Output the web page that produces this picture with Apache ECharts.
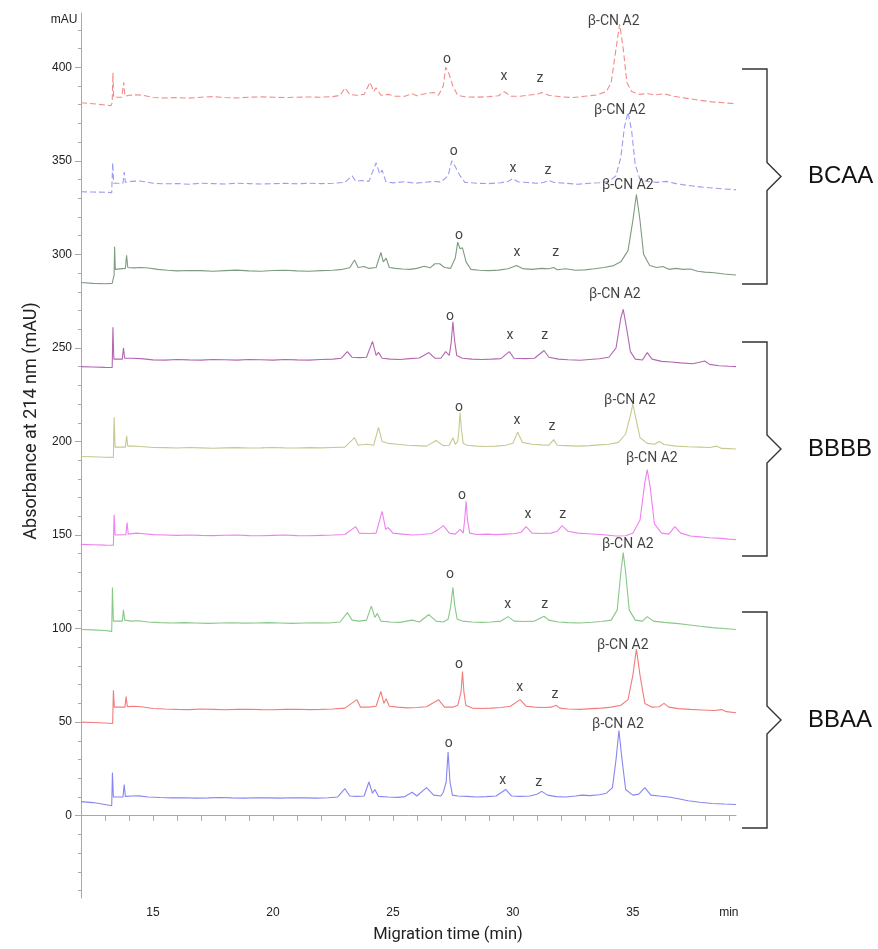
<!DOCTYPE html>
<html>
<head>
<meta charset="utf-8">
<script src="https://cdn.jsdelivr.net/npm/echarts@6/dist/echarts.min.js"></script>
<style>
  html, body { margin: 0; padding: 0; background: #fff; }
  #chart { width: 878px; height: 949px; }
</style>
</head>
<body>
<div id="chart"></div>
<script>
// Electropherograms (absorbance at 214 nm vs migration time), stacked traces
const xTickValues = [12,13,14,15,16,17,18,19,20,21,22,23,24,25,26,27,28,29,30,31,32,33,34,35,36,37,38,39];
const xLabelValues = [15, 20, 25, 30, 35, 39];
const yLabelValues = [0, 50, 100, 150, 200, 250, 300, 350, 400];
const yMinorValues = [-40,-30,-20,-10,0,10,20,30,40,50,60,70,80,90,100,110,120,130,140,150,160,170,180,190,200,210,220,230,240,250,260,270,280,290,300,310,320,330,340,350,360,370,380,390,400,410,420];

// BCAA sample 1 (dashed red)
const traceBCAA1 = [[12.0,381],[12.5,380.5],[13.0,379.8],[13.25,379.5],[13.3,381],[13.33,397],[13.36,384],[13.7,384],[13.78,392],[13.83,384.5],[14.0,385],[14.3,385.3],[14.6,385],[15.0,383.8],[15.5,383.6],[16.0,383.8],[16.5,383.5],[17.0,384],[17.5,384.3],[18.0,383.8],[18.5,383.6],[19.0,384],[19.5,384.2],[20.0,384],[20.5,383.8],[21.0,384],[21.5,384.1],[22.0,384],[22.5,384.3],[22.8,385],[23.0,389],[23.2,385.5],[23.5,385],[23.8,385.5],[24.05,392],[24.2,387],[24.3,389],[24.5,385],[24.8,385.5],[25.1,384.5],[25.5,384.5],[25.8,385.8],[26.0,384.8],[26.4,386],[26.7,386.5],[26.9,385],[27.1,390],[27.2,400],[27.3,398],[27.35,399],[27.5,390],[27.7,385],[28.0,384.2],[28.5,384],[29.0,384.3],[29.4,384.8],[29.65,387],[29.9,384.5],[30.3,384.5],[30.7,385.2],[31.0,385.5],[31.2,386.5],[31.5,385],[32.0,384.2],[32.5,383.8],[33.0,384.5],[33.5,385.2],[33.9,387],[34.1,392],[34.3,410],[34.45,423],[34.6,410],[34.75,392],[34.95,387],[35.3,385.5],[35.6,386],[35.9,385.2],[36.3,385.8],[36.7,384.5],[37.2,383.5],[37.7,382.5],[38.3,381.5],[38.8,381],[39.3,380.5]];
// BCAA sample 2 (dashed blue)
const traceBCAA2 = [[12.0,333.5],[12.5,333.3],[13.0,333.2],[13.28,333],[13.32,349],[13.36,338],[13.75,338],[13.8,344],[13.85,338.5],[14.1,339],[14.4,339.2],[14.7,338.8],[15.0,338],[15.5,337.7],[16,337.8],[16.5,337.5],[17,338],[17.5,337.8],[18,337.6],[18.5,338],[19,337.8],[19.5,337.6],[20,337.8],[20.5,338],[21,337.7],[21.5,338],[22,337.8],[22.5,338],[23.0,338.5],[23.3,342],[23.45,339],[23.7,339.5],[24.0,339],[24.3,349],[24.45,343],[24.55,345],[24.7,339],[25.0,338.2],[25.5,338.8],[25.9,338],[26.3,338.5],[26.7,339],[27.0,338.7],[27.3,342],[27.45,350],[27.55,348],[27.6,349],[27.8,342],[28.0,338.5],[28.5,338],[29.0,337.8],[29.5,338.3],[29.8,339],[30.0,340.5],[30.2,338.8],[30.6,338.4],[31.0,338],[31.3,338.5],[31.5,339.5],[31.7,338.5],[32.2,338],[32.7,337.5],[33.2,338],[33.6,338.3],[34.0,339],[34.3,342],[34.5,352],[34.65,368],[34.8,376],[34.95,366],[35.1,348],[35.3,340],[35.6,339],[36.0,338.5],[36.4,339],[36.8,337.8],[37.2,337],[37.7,336.2],[38.3,335.5],[38.8,335],[39.3,334.5]];
// BCAA sample 3 (grey-green)
const traceBCAA3 = [[12.0,285],[12.5,284.5],[13.0,284.3],[13.3,284.5],[13.38,289],[13.4,304],[13.43,292],[13.85,292.5],[13.9,299.5],[13.95,293],[14.2,292.8],[14.5,293],[14.8,292.7],[15.2,292],[15.6,291.5],[16,291.2],[16.5,291.4],[17,291.3],[17.5,291],[18,291.3],[18.5,291.6],[19,291.2],[19.5,291.0],[20,291.4],[20.5,291.5],[21,291.2],[21.5,291],[22,291.3],[22.5,291.5],[22.9,292],[23.2,292.8],[23.4,297],[23.55,293],[23.8,293.5],[24.0,292.5],[24.3,293],[24.5,301],[24.6,296],[24.72,298],[24.85,293],[25.1,292.5],[25.4,292.2],[25.7,292],[26.0,292.5],[26.3,293.6],[26.55,292.8],[26.75,295],[26.95,295],[27.15,293],[27.4,292.5],[27.6,298],[27.7,306.5],[27.8,303],[27.9,303.5],[28.05,296],[28.25,292],[28.6,291.5],[29.0,291.3],[29.4,291.6],[29.8,292.3],[30.15,294],[30.4,292.4],[30.8,292],[31.2,292.5],[31.5,292.3],[31.7,293],[31.85,291.8],[32.2,292.3],[32.6,291.5],[33.0,291.7],[33.4,292.3],[33.8,293],[34.2,294],[34.5,296],[34.8,302],[35.0,318],[35.15,332],[35.3,318],[35.45,300],[35.7,294],[36.0,293],[36.25,293.5],[36.5,292],[36.8,292.5],[37.1,292],[37.4,292.2],[37.7,291],[38.0,290.5],[38.4,290.2],[38.8,289.5],[39.3,289]];
// BBBB sample 1 (purple)
const traceBBBB1 = [[12.0,240],[12.5,239.8],[13.0,239.6],[13.3,239.5],[13.33,261],[13.37,244],[13.72,244],[13.77,250],[13.82,244.5],[14.1,244.5],[14.5,244.3],[15.0,243.6],[15.5,243.5],[16,243.8],[16.5,243.6],[17,243.5],[17.5,243.8],[18,243.7],[18.5,243.5],[19,243.8],[19.5,243.7],[20,243.5],[20.5,243.8],[21,243.6],[21.5,243.5],[22,243.8],[22.5,244],[22.85,244.5],[23.1,248],[23.3,245],[23.6,244.8],[23.9,245],[24.15,253.5],[24.3,246],[24.4,247.6],[24.55,244.5],[24.9,244],[25.3,243.8],[25.7,244.3],[26.1,244.6],[26.5,247.5],[26.75,244.5],[27.0,244.5],[27.2,248],[27.35,246],[27.43,253],[27.5,264],[27.57,254],[27.66,246],[27.9,244.5],[28.3,244],[28.7,243.8],[29.1,244],[29.5,244.3],[29.85,248],[30.05,244.5],[30.5,244.3],[30.9,244.5],[31.3,248.6],[31.5,245],[31.9,244],[32.3,243.7],[32.8,243.4],[33.2,243.8],[33.6,244.2],[34.0,245],[34.3,250],[34.5,266],[34.6,270.6],[34.72,262],[34.9,248],[35.1,244],[35.4,243.5],[35.6,247.5],[35.8,244],[36.2,242.8],[36.6,242.5],[37.0,242],[37.5,241.5],[38.0,243],[38.2,241.2],[38.6,240.5],[39.0,240.2],[39.3,240]];
// BBBB sample 2 (olive)
const traceBBBB2 = [[12.0,192],[12.5,191.8],[13.0,191.6],[13.35,191.5],[13.38,213],[13.42,197],[13.85,197],[13.9,203],[13.95,197.5],[14.2,197.6],[14.5,197.3],[15.0,196.8],[15.5,196.7],[16,196.5],[16.5,196.8],[17,196.6],[17.5,196.4],[18,196.6],[18.5,196.7],[19,196.5],[19.5,196.6],[20,196.8],[20.5,196.6],[21,196.5],[21.5,196.7],[22,196.6],[22.5,196.8],[23.0,197],[23.4,202],[23.55,198],[23.9,198.5],[24.2,198],[24.4,207.5],[24.55,200],[24.8,199],[25.2,198.5],[25.6,198],[26.0,197.8],[26.4,197.5],[26.8,200.5],[27.1,197.8],[27.35,198],[27.5,202],[27.6,198.5],[27.7,200],[27.75,206],[27.8,215.5],[27.86,206],[27.93,199],[28.1,198],[28.5,197.5],[28.9,197.3],[29.3,197.5],[29.7,198],[30.0,199],[30.2,205],[30.4,199.5],[30.8,198.5],[31.2,198.2],[31.5,198],[31.7,201],[31.85,198],[32.2,197.8],[32.7,197.5],[33.2,197.8],[33.6,198.2],[34.0,198.5],[34.4,199.5],[34.7,204],[34.9,214],[35.0,220],[35.1,214],[35.3,202],[35.6,199],[35.9,198.5],[36.1,200],[36.3,198.4],[36.8,197.5],[37.3,197.2],[37.8,197],[38.2,196.8],[38.5,197.5],[38.7,196.3],[39.0,196.2],[39.3,196]];
// BBBB sample 3 (magenta)
const traceBBBB3 = [[12.0,145],[12.5,144.8],[13.0,144.6],[13.35,144.5],[13.38,161],[13.42,150],[13.87,150.2],[13.92,156.7],[13.97,150.5],[14.3,151],[14.5,150.8],[15.0,150.2],[15.5,150],[16,149.8],[16.5,150],[17,149.8],[17.5,149.7],[18,149.9],[18.5,150],[19,149.7],[19.5,149.6],[20,149.8],[20.5,150],[21,149.7],[21.5,149.6],[22,149.8],[22.5,150],[23.0,150.3],[23.45,154.5],[23.6,151],[24.0,150.8],[24.3,151],[24.55,162.6],[24.7,153],[24.8,154],[25.0,151],[25.4,150.5],[25.8,150],[26.2,150.3],[26.6,150.8],[26.9,153],[27.1,155],[27.35,151],[27.6,150.5],[27.8,153],[27.93,151],[27.99,158],[28.05,168],[28.11,158],[28.2,151],[28.5,150.3],[28.9,150.5],[29.3,150.2],[29.7,150.5],[30.1,150.8],[30.35,151.5],[30.55,154.5],[30.8,151],[31.2,150.8],[31.6,151],[31.85,152],[32.05,155],[32.3,152],[32.7,151],[33.1,150.7],[33.5,150.4],[33.9,150],[34.3,149.5],[34.7,149.6],[35.0,151],[35.3,158],[35.5,178],[35.6,185],[35.72,176],[35.9,156],[36.2,151],[36.5,150.5],[36.75,154.5],[37.0,151],[37.4,149.5],[37.8,149],[38.2,148.5],[38.7,148.2],[39.0,147.8],[39.3,147.6]];
// BBAA sample 1 (green)
const traceBBAA1 = [[12.0,99.5],[12.5,99.3],[13.0,99],[13.28,98.5],[13.31,122],[13.35,104],[13.72,104],[13.77,110],[13.82,104.5],[14.1,104],[14.4,104.2],[14.8,103.5],[15.3,103.2],[15.8,103],[16.3,103.2],[16.8,103],[17.3,102.8],[17.8,103],[18.3,103.1],[18.8,102.9],[19.3,103],[19.8,103.2],[20.3,103],[20.8,102.8],[21.3,103],[21.8,103.1],[22.3,103],[22.8,103.5],[23.1,108.5],[23.3,104.5],[23.6,104],[23.9,104.5],[24.1,112],[24.25,106],[24.35,108],[24.5,104],[24.9,103.5],[25.3,103.3],[25.8,104.5],[26.1,103.5],[26.5,107.5],[26.8,104],[27.1,103.5],[27.3,105],[27.4,111],[27.5,122],[27.58,112],[27.68,105],[27.9,104],[28.3,103.5],[28.7,103.3],[29.1,103.5],[29.5,104],[29.8,106.4],[30.05,104],[30.5,103.8],[30.9,104],[31.3,106.6],[31.5,104.5],[31.9,103.5],[32.3,103.2],[32.8,103],[33.3,103.4],[33.7,103.8],[34.1,104.5],[34.35,110],[34.5,130],[34.6,140.6],[34.7,130],[34.85,110],[35.1,104.5],[35.4,104],[35.6,106.4],[35.85,104],[36.3,103.3],[36.8,102.8],[37.3,102],[37.8,101.2],[38.3,100.5],[38.8,100],[39.3,99.5]];
// BBAA sample 2 (red)
const traceBBAA2 = [[12.0,50],[12.5,49.8],[13.0,49.5],[13.32,49.3],[13.35,67],[13.39,58],[13.83,58],[13.88,63.6],[13.93,58.3],[14.2,58.5],[14.5,58.2],[15.0,57.3],[15.5,57],[16,56.8],[16.5,56.7],[17,57],[17.5,56.8],[18,56.6],[18.5,56.8],[19,56.9],[19.5,56.7],[20,56.6],[20.5,56.8],[21,56.9],[21.5,56.7],[22,56.8],[22.5,57],[23.0,57.5],[23.5,62],[23.65,58],[24.0,58],[24.3,58.5],[24.5,66.4],[24.62,60],[24.72,62.5],[24.85,58.5],[25.2,58],[25.6,57.6],[26.0,57.8],[26.4,58.2],[26.9,62],[27.15,58],[27.5,58],[27.7,59],[27.78,59],[27.84,66],[27.9,77],[27.96,66],[28.04,59],[28.3,57.5],[28.7,57.3],[29.1,57.5],[29.5,57.8],[29.9,58.5],[30.3,62],[30.55,58.5],[30.9,58],[31.3,57.8],[31.6,58],[31.8,59],[31.95,57.5],[32.3,57],[32.8,56.8],[33.3,57.2],[33.7,57.5],[34.1,58],[34.5,59],[34.8,62],[35.0,75],[35.15,89],[35.3,75],[35.5,60],[35.8,58],[36.1,58.2],[36.3,60],[36.5,58],[36.9,57.2],[37.4,56.8],[37.9,56.5],[38.4,56.2],[38.7,56.7],[38.9,55.6],[39.3,55]];
// BBAA sample 3 (blue)
const traceBBAA3 = [[12.0,7.5],[12.5,7],[13.0,6],[13.28,5.3],[13.31,23],[13.35,10],[13.75,10],[13.8,16.6],[13.85,10.3],[14.1,10.5],[14.4,10.6],[14.8,10],[15.3,9.7],[15.8,9.5],[16.3,9.6],[16.8,9.4],[17.3,9.5],[17.8,9.7],[18.3,9.5],[18.8,9.4],[19.3,9.6],[19.8,9.5],[20.3,9.4],[20.8,9.6],[21.3,9.5],[21.8,9.4],[22.3,9.6],[22.7,10],[23.0,14.4],[23.2,10.5],[23.5,10.3],[23.8,10.5],[24.0,18],[24.15,12],[24.25,14],[24.4,10.3],[24.8,10],[25.2,9.8],[25.5,10.2],[25.8,12.5],[26.0,10.5],[26.4,15],[26.7,11],[27.0,10.5],[27.1,12.5],[27.16,12],[27.22,18],[27.3,34],[27.38,18],[27.48,11],[27.7,10.5],[28.1,10.3],[28.5,10],[28.9,10.2],[29.3,10.5],[29.7,14],[29.95,10.5],[30.3,10.3],[30.7,10.5],[31.0,11.5],[31.2,13],[31.45,11],[31.8,10.2],[32.2,10],[32.6,10.5],[32.9,11],[33.2,10.7],[33.6,11.2],[33.9,12],[34.15,15],[34.3,30],[34.42,45.5],[34.55,30],[34.7,14],[35.0,11],[35.25,11.5],[35.5,15],[35.75,11],[36.1,10.5],[36.5,10],[36.9,9],[37.3,8],[37.8,7.2],[38.3,6.5],[38.8,6.2],[39.3,6]];

// Peak annotations: [time, mAU, text]
const peakLabels = [
  [27.25,404,'o'],[29.63,395,'x'],[31.13,394,'z'],[34.2,424.5,'β-CN A2'],
  [27.54,355,'o'],[30.0,346,'x'],[31.46,345,'z'],[34.46,377,'β-CN A2'],
  [27.75,310,'o'],[30.17,301,'x'],[31.79,301,'z'],[34.79,336.7,'β-CN A2'],
  [27.38,267,'o'],[29.88,256.5,'x'],[31.33,256.5,'z'],[34.25,278.5,'β-CN A2'],
  [27.75,218,'o'],[30.17,211,'x'],[31.63,208,'z'],[34.88,222,'β-CN A2'],
  [27.88,171,'o'],[30.63,161,'x'],[32.08,161,'z'],[35.79,191,'β-CN A2'],
  [27.38,129,'o'],[29.79,113,'x'],[31.33,113,'z'],[34.79,145,'β-CN A2'],
  [27.75,81,'o'],[30.29,68.4,'x'],[31.75,65,'z'],[34.58,91,'β-CN A2'],
  [27.33,38.5,'o'],[29.58,18.7,'x'],[31.08,17.6,'z'],[34.38,48.6,'β-CN A2']
];

const groupNames = ['BCAA', 'BBBB', 'BBAA'];

const traces = [
  { data: traceBCAA1, color: '#f08c8c', dashed: true },
  { data: traceBCAA2, color: '#9c9cf0', dashed: true },
  { data: traceBCAA3, color: '#7e9c80', dashed: false },
  { data: traceBBBB1, color: '#b466b2', dashed: false },
  { data: traceBBBB2, color: '#c8c890', dashed: false },
  { data: traceBBBB3, color: '#f080f0', dashed: false },
  { data: traceBBAA1, color: '#88c888', dashed: false },
  { data: traceBBAA2, color: '#f27c7c', dashed: false },
  { data: traceBBAA3, color: '#8686f2', dashed: false }
];

const chart = echarts.init(document.getElementById('chart'), null, { renderer: 'canvas' });

const axisGrey = '#a8a8a8';
const tickFont = 'Liberation Sans, Arial, sans-serif';
const textFont = 'Roboto, "Noto Sans", sans-serif';

const series = traces.map(t => ({
  type: 'line',
  data: t.data,
  showSymbol: false,
  symbol: 'none',
  silent: true,
  animation: false,
  lineStyle: { color: t.color, width: 1.1, type: t.dashed ? [6, 3] : 'solid' }
}));

series.push({
  type: 'scatter',
  data: peakLabels,
  symbolSize: 1,
  itemStyle: { color: 'rgba(0,0,0,0)' },
  silent: true,
  animation: false,
  label: {
    show: true,
    position: 'inside',
    formatter: p => p.data[2],
    color: '#111',
    fontFamily: textFont,
    fontSize: 14
  },
  z: 5
});

// Bracket outlines in the right margin
function bracket(top, bottom) {
  const mid = (top + bottom) / 2;
  return {
    type: 'polyline',
    shape: { points: [[742, top], [767, top], [767, mid - 14], [781, mid], [767, mid + 14], [767, bottom], [742, bottom]] },
    style: { stroke: '#333', lineWidth: 1.4, fill: null }
  };
}
const bracketSpans = [[69, 284], [342, 556], [612, 828]];

const graphic = [];
bracketSpans.forEach((s, i) => {
  graphic.push(bracket(s[0], s[1]));
  graphic.push({
    type: 'text',
    x: 808, y: (s[0] + s[1]) / 2,
    style: { text: groupNames[i], font: '24px ' + tickFont, fill: '#111', textAlign: 'left', textVerticalAlign: 'middle' }
  });
});
graphic.push({
  type: 'text', x: 64, y: 20,
  style: { text: 'mAU', font: '12px ' + tickFont, fill: '#222', textAlign: 'center', textVerticalAlign: 'middle' }
});
graphic.push({
  type: 'text', x: 448, y: 935,
  style: { text: 'Migration time (min)', font: '16.5px ' + textFont, fill: '#222', textAlign: 'center', textVerticalAlign: 'middle' }
});
graphic.push({
  type: 'text', x: 31, y: 421, rotation: Math.PI / 2,
  style: { text: 'Absorbance at 214 nm (mAU)', font: '18px ' + textFont, fill: '#222', textAlign: 'center', textVerticalAlign: 'middle' }
});

chart.setOption({
  backgroundColor: '#fff',
  animation: false,
  grid: { left: 81, right: 142, top: 13, bottom: 51, containLabel: false },
  xAxis: {
    type: 'value', min: 12, max: 39.3,
    axisLine: { show: true, lineStyle: { color: axisGrey, width: 1 } },
    axisTick: { show: true, customValues: xTickValues, length: 5, lineStyle: { color: axisGrey } },
    axisLabel: {
      customValues: xLabelValues, margin: 9, color: '#222', fontFamily: tickFont, fontSize: 12,
      formatter: v => (v === 39 ? 'min' : String(v))
    },
    splitLine: { show: false }
  },
  yAxis: [
    {
      type: 'value', min: -44, max: 429,
      axisLine: { show: true, lineStyle: { color: axisGrey, width: 1 } },
      axisTick: { show: true, customValues: yLabelValues, length: 6, lineStyle: { color: axisGrey } },
      axisLabel: { customValues: yLabelValues, margin: 9, color: '#222', fontFamily: tickFont, fontSize: 12 },
      splitLine: { show: false }
    },
    {
      type: 'value', min: -44, max: 429, position: 'left',
      axisLine: { show: false },
      axisTick: { show: true, customValues: yMinorValues, length: 3, lineStyle: { color: axisGrey } },
      axisLabel: { show: false },
      splitLine: { show: false }
    }
  ],
  series: series,
  graphic: graphic
});
</script>
</body>
</html>
